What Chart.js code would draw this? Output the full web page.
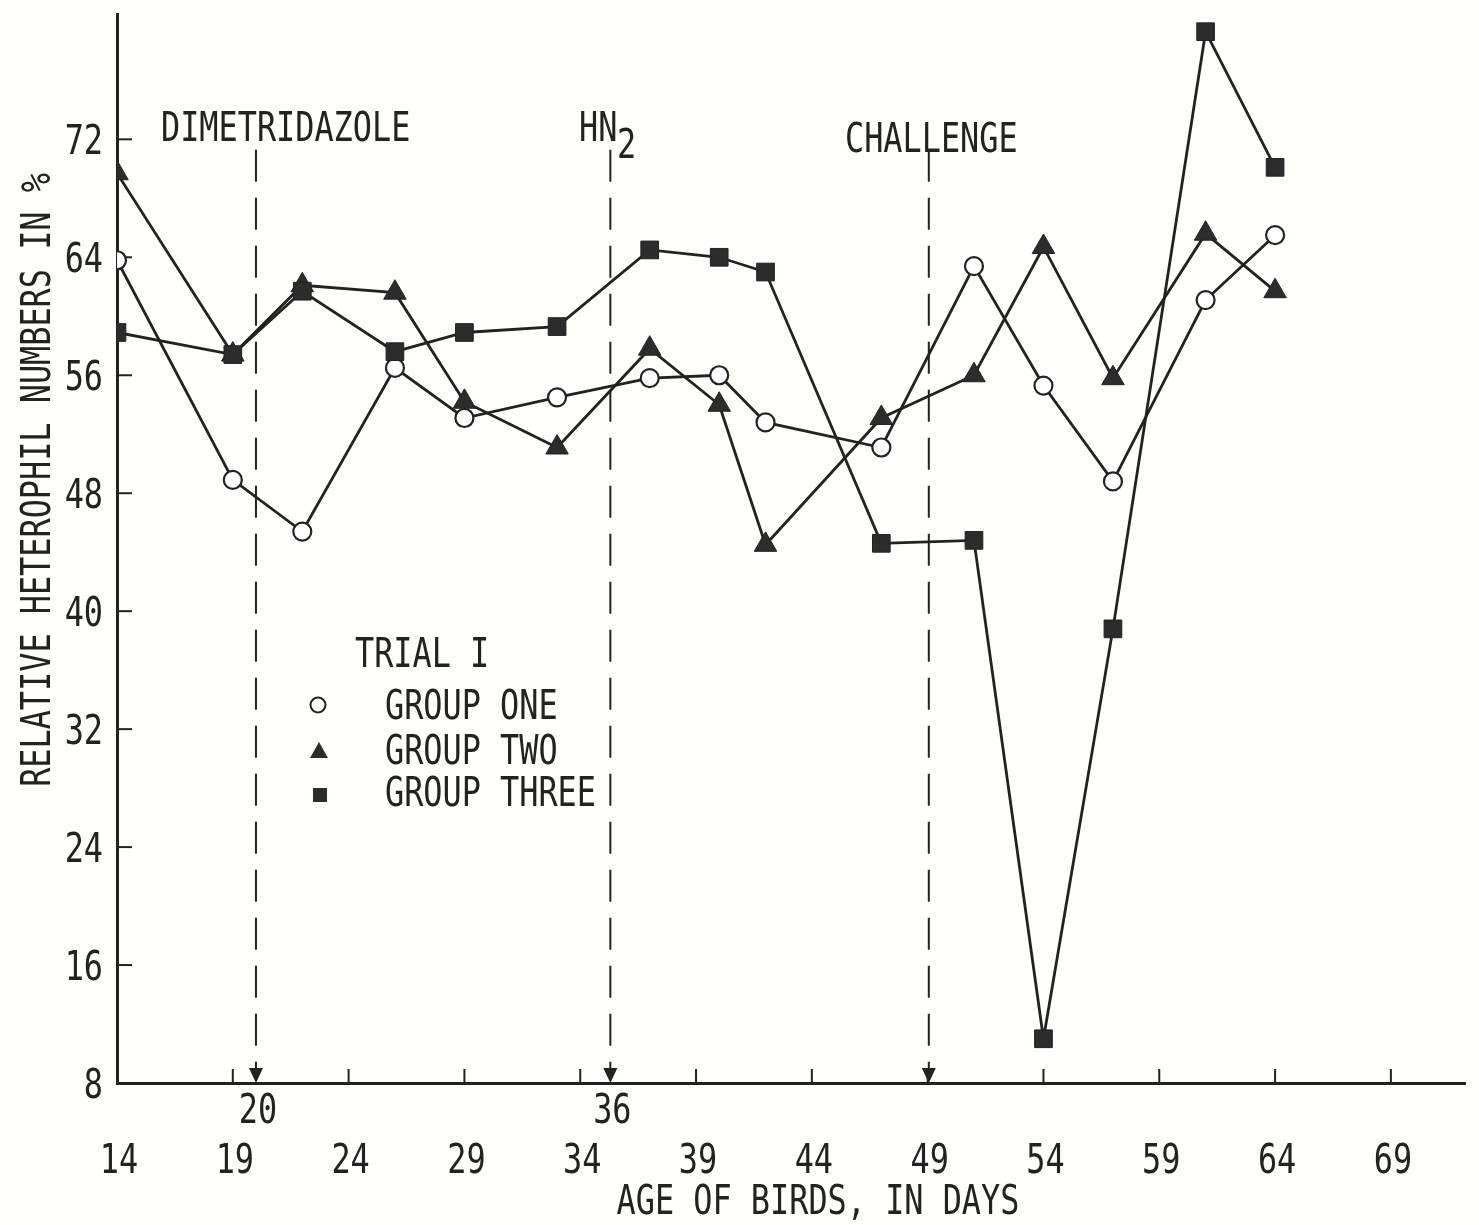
<!DOCTYPE html>
<html>
<head>
<meta charset="utf-8">
<title>Relative heterophil numbers</title>
<script src="https://cdn.jsdelivr.net/npm/chart.js@4.4.1/dist/chart.umd.min.js"></script>
<style>
  html, body { margin: 0; padding: 0; background: #fefefb; }
  #wrap { width: 1479px; height: 1225px; }
</style>
</head>
<body>
<div id="wrap"><canvas id="chart" width="1479" height="1225"></canvas></div>
<script>
// ages (days) at which the blood samples were taken
const days = [14, 19, 22, 26, 29, 33, 37, 40, 42, 47, 51, 54, 57, 61, 64];

// relative heterophil numbers in %
const groupOne = [63.8, 48.9, 45.4, 56.5, 53.1, 54.5, 55.8, 56.0, 52.8, 51.1, 63.4, 55.3, 48.8, 61.1, 65.5];
const groupTwo = [69.7, 57.4, 62.1, 61.6, 54.2, 51.1, 57.8, 54.0, 44.5, 53.1, 56.0, 64.7, 55.8, 65.6, 61.7];
const groupThree = [58.9, 57.4, 61.7, 57.6, 58.9, 59.3, 64.5, 64.0, 63.0, 44.6, 44.8, 11.0, 38.8, 79.3, 70.1];

const xTicks = [14, 19, 24, 29, 34, 39, 44, 49, 54, 59, 64, 69];
const yTicks = [8, 16, 24, 32, 40, 48, 56, 64, 72];

// treatments marked with dashed arrows
const eventNames = ["DIMETRIDAZOLE", "HN", "CHALLENGE"];
const eventDays = [20, 35.3, 49.05];
const eventDayLabels = ["20", "36", ""];
const eventTop = 71.3;

const legendTitle = "TRIAL I";
const groupNames = ["GROUP ONE", "GROUP TWO", "GROUP THREE"];

// typewriter look: mono font squeezed sideways
const FONT = '41px "DejaVu Sans Mono", "Liberation Mono", monospace';
const SX = 0.777;
const INK = "#222222";
const MARK = "#2c2c2c";

function series(values) {
  return values.map((v, i) => ({ x: days[i], y: v }));
}

function typeText(ctx, str, x, y, align) {
  ctx.save();
  ctx.font = FONT;
  ctx.textAlign = "left";
  ctx.textBaseline = "alphabetic";
  const w = ctx.measureText(str).width * SX;
  const x0 = align === "center" ? x - w / 2 : align === "right" ? x - w : x;
  ctx.translate(x0, y);
  ctx.scale(SX, 1);
  ctx.fillText(str, 0, 0);
  ctx.restore();
}

const decor = {
  id: "decor",
  beforeDatasetsDraw(chart) {
    const { ctx, scales: { x, y } } = chart;
    const base = y.getPixelForValue(8);
    ctx.save();
    ctx.strokeStyle = INK;
    ctx.lineWidth = 2;

    // tick marks pointing into the plot
    xTicks.slice(1).forEach(v => {
      const px = x.getPixelForValue(v);
      ctx.beginPath();
      ctx.moveTo(px, base);
      ctx.lineTo(px, base - 14);
      ctx.stroke();
    });
    yTicks.slice(1).forEach(v => {
      const py = y.getPixelForValue(v);
      ctx.beginPath();
      ctx.moveTo(x.left, py);
      ctx.lineTo(x.left + 15, py);
      ctx.stroke();
    });

    // dashed treatment lines with arrowheads
    eventDays.forEach(d => {
      const px = x.getPixelForValue(d);
      ctx.setLineDash([32, 16]);
      ctx.beginPath();
      ctx.moveTo(px, y.getPixelForValue(eventTop));
      ctx.lineTo(px, base - 10);
      ctx.stroke();
      ctx.setLineDash([]);
      ctx.fillStyle = INK;
      ctx.beginPath();
      ctx.moveTo(px - 7, base - 15);
      ctx.lineTo(px + 7, base - 15);
      ctx.lineTo(px, base);
      ctx.closePath();
      ctx.fill();
    });
    ctx.restore();
  },
  afterDraw(chart) {
    const { ctx, scales: { x, y } } = chart;
    ctx.save();
    ctx.fillStyle = INK;

    // tick labels
    yTicks.forEach(v => typeText(ctx, String(v), 103, y.getPixelForValue(v) + 15, "right"));
    xTicks.forEach(v => typeText(ctx, String(v), x.getPixelForValue(v) + 2, 1173, "center"));

    // treatment names above the dashed lines
    typeText(ctx, eventNames[0], 161, 141, "left");
    typeText(ctx, eventNames[1], 579, 141, "left");
    typeText(ctx, "2", 617, 158, "left");
    typeText(ctx, eventNames[2], 845, 152, "left");

    // day labels of the treatments
    eventDays.forEach((d, i) => {
      if (eventDayLabels[i]) typeText(ctx, eventDayLabels[i], x.getPixelForValue(d) + 2, 1123, "center");
    });

    // legend
    typeText(ctx, legendTitle, 355, 667, "left");
    groupNames.forEach((n, i) => typeText(ctx, n, 385, [719, 764, 806][i], "left"));
    ctx.lineWidth = 2;
    ctx.strokeStyle = INK;
    ctx.beginPath();
    ctx.arc(318, 705, 7.5, 0, Math.PI * 2);
    ctx.stroke();
    ctx.fillStyle = MARK;
    ctx.beginPath();
    ctx.moveTo(319, 742);
    ctx.lineTo(328, 758);
    ctx.lineTo(310, 758);
    ctx.closePath();
    ctx.fill();
    ctx.fillRect(313, 788, 14, 14);

    // axis titles
    ctx.fillStyle = INK;
    typeText(ctx, "AGE OF BIRDS, IN DAYS", 818, 1214, "center");
    ctx.translate(50, 480);
    ctx.rotate(-Math.PI / 2);
    typeText(ctx, "RELATIVE HETEROPHIL NUMBERS IN %", 0, 0, "center");
    ctx.restore();
  }
};

new Chart(document.getElementById("chart"), {
  type: "line",
  data: {
    datasets: [
      {
        label: groupNames[0],
        data: series(groupOne),
        borderColor: INK,
        borderWidth: 2.8,
        pointStyle: "circle",
        pointRadius: 9,
        pointBorderWidth: 2.2,
        pointBackgroundColor: "#ffffff",
        pointBorderColor: INK,
        order: 3
      },
      {
        label: groupNames[1],
        data: series(groupTwo),
        borderColor: INK,
        borderWidth: 2.8,
        pointStyle: "triangle",
        pointRadius: 13,
        pointBorderWidth: 1,
        pointBackgroundColor: MARK,
        pointBorderColor: INK,
        order: 2
      },
      {
        label: groupNames[2],
        data: series(groupThree),
        borderColor: INK,
        borderWidth: 2.8,
        pointStyle: "rect",
        pointRadius: 12.5,
        pointBorderWidth: 1,
        pointBackgroundColor: MARK,
        pointBorderColor: INK,
        order: 1
      }
    ]
  },
  options: {
    responsive: false,
    animation: false,
    layout: { padding: { top: 12, left: 0, right: 0, bottom: 0 } },
    plugins: {
      legend: { display: false },
      tooltip: { enabled: false }
    },
    scales: {
      x: {
        type: "linear",
        min: 14,
        max: 72.2,
        grid: { display: false, drawTicks: false },
        border: { display: true, color: INK, width: 3 },
        afterBuildTicks: s => { s.ticks = xTicks.map(v => ({ value: v })); },
        afterFit: s => { s.height = 142; s.paddingLeft = 0; s.paddingRight = 0; },
        ticks: { display: false }
      },
      y: {
        min: 8,
        max: 80.5,
        grid: { display: false, drawTicks: false },
        border: { display: true, color: INK, width: 3 },
        afterBuildTicks: s => { s.ticks = yTicks.map(v => ({ value: v })); },
        afterFit: s => { s.width = 117; s.paddingTop = 0; s.paddingBottom = 0; },
        ticks: { display: false }
      }
    }
  },
  plugins: [decor]
});
</script>
</body>
</html>
